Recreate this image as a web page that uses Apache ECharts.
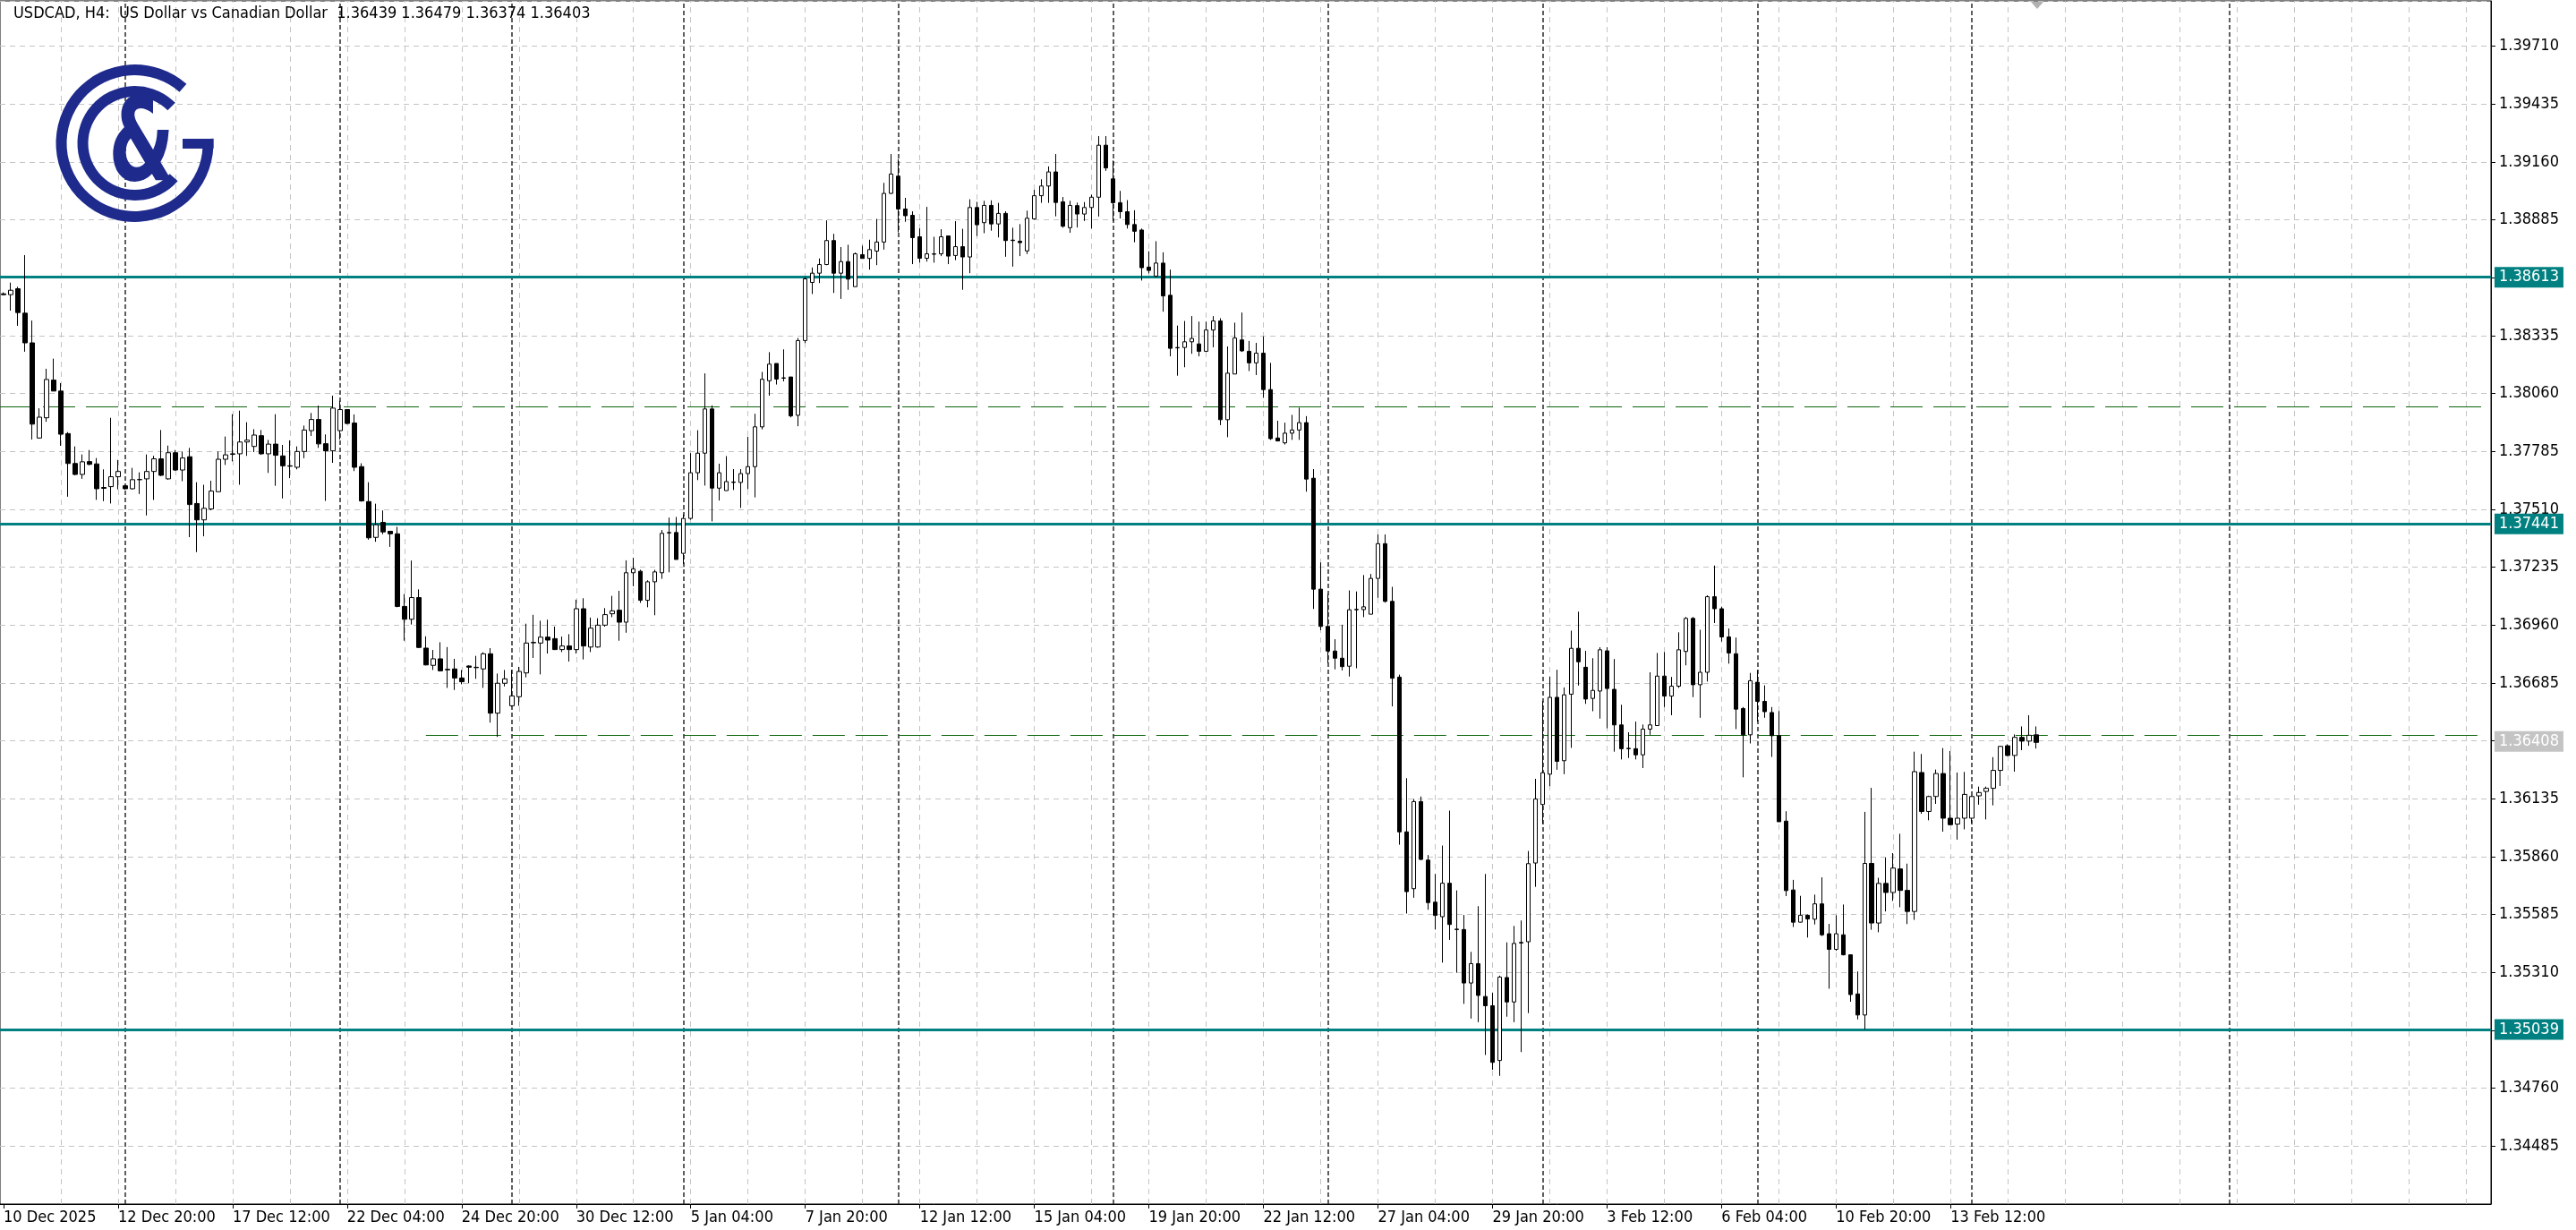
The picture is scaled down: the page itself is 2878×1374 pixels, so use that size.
<!DOCTYPE html>
<html><head><meta charset="utf-8">
<script src="https://cdn.jsdelivr.net/npm/echarts@6/dist/echarts.min.js"></script>
<style>html,body{margin:0;padding:0;background:#fff;}#c{width:2878px;height:1374px;}</style>
</head><body><div id="c"></div>
<script>
// ---- DATA (USDCAD H4) ----
const opens = [
1.38534,1.38530,1.38558,1.38442,1.38301,1.37849,1.37945,1.38124,1.38072,1.37870,
1.37728,1.37676,1.37737,1.37726,1.37614,1.37618,1.37665,1.37622,1.37608,1.37651,
1.37655,1.37690,1.37750,1.37655,1.37779,1.37697,1.37760,1.37538,1.37460,1.37512,
1.37594,1.37748,1.37774,1.37774,1.37830,1.37809,1.37860,1.37774,1.37820,1.37764,
1.37717,1.37710,1.37785,1.37884,1.37937,1.37822,1.37788,1.37884,1.37984,1.37920,
1.37713,1.37547,1.37377,1.37448,1.37406,1.37394,1.37049,1.36988,1.37091,1.36851,
1.36769,1.36800,1.36750,1.36752,1.36709,1.36766,1.36758,1.36752,1.36824,1.36542,
1.36684,1.36577,1.36620,1.36733,1.36876,1.36875,1.36903,1.36896,1.36844,1.36861,
1.36844,1.37038,1.36856,1.36856,1.36960,1.37014,1.37031,1.36974,1.37209,1.37216,
1.37078,1.37166,1.37209,1.37398,1.37400,1.37301,1.37467,1.37684,1.37777,1.37987,
1.37611,1.37599,1.37640,1.37638,1.37680,1.37713,1.37902,1.38121,1.38203,1.38133,
1.38139,1.37957,1.38312,1.38588,1.38632,1.38673,1.38787,1.38632,1.38687,1.38568,
1.38720,1.38702,1.38737,1.38780,1.39011,1.39093,1.38937,1.38907,1.38805,1.38703,
1.38722,1.38724,1.38809,1.38716,1.38758,1.38709,1.38944,1.38872,1.38954,1.38866,
1.38916,1.38789,1.38784,1.38738,1.38890,1.39000,1.39046,1.39113,1.38971,1.38848,
1.38953,1.38913,1.38944,1.38993,1.39240,1.39080,1.38967,1.38924,1.38863,1.38837,
1.38661,1.38618,1.38680,1.38527,1.38277,1.38279,1.38306,1.38296,1.38261,1.38362,
1.38405,1.37936,1.38153,1.38315,1.38261,1.38206,1.38252,1.38079,1.37849,1.37826,
1.37872,1.37887,1.37922,1.37658,1.37131,1.36954,1.36837,1.36803,1.36765,1.37033,
1.37034,1.37012,1.37182,1.37347,1.37073,1.36713,1.35978,1.35708,1.36122,1.35844,
1.35644,1.35575,1.35734,1.35516,1.35514,1.35260,1.35352,1.35196,1.35152,1.34892,
1.35286,1.35170,1.35450,1.35456,1.35830,1.36108,1.36252,1.36617,1.36316,1.36632,
1.36850,1.36760,1.36612,1.36647,1.36838,1.36655,1.36486,1.36375,1.36373,1.36344,
1.36466,1.36483,1.36718,1.36623,1.36670,1.36835,1.36992,1.36677,1.36736,1.37095,
1.37038,1.36904,1.36824,1.36564,1.36439,1.36689,1.36598,1.36545,1.36435,1.36029,
1.35702,1.35549,1.35582,1.35563,1.35636,1.35494,1.35420,1.35489,1.35394,1.35208,
1.35108,1.35828,1.35545,1.35733,1.35690,1.35802,1.35700,1.35600,1.36260,1.36075,
1.36146,1.36255,1.36043,1.36015,1.36043,1.36043,1.36149,1.36170,1.36185,1.36270,
1.36387,1.36341,1.36427,1.36409,1.36439];
const highs = [
1.38541,1.38587,1.38567,1.38718,1.38407,1.37990,1.38178,1.38226,1.38110,1.37877,
1.37809,1.37771,1.37792,1.37754,1.37700,1.37945,1.37745,1.37625,1.37707,1.37686,
1.37771,1.37764,1.37887,1.37813,1.37792,1.37784,1.37802,1.37639,1.37627,1.37646,
1.37785,1.37856,1.37962,1.37979,1.37924,1.37891,1.37887,1.37840,1.37962,1.37816,
1.37838,1.37809,1.37908,1.37968,1.38003,1.37866,1.38050,1.38026,1.37986,1.37961,
1.37729,1.37639,1.37537,1.37505,1.37406,1.37427,1.37108,1.37267,1.37130,1.36907,
1.36842,1.36879,1.36856,1.36800,1.36747,1.36769,1.36814,1.36831,1.36851,1.36730,
1.36747,1.36747,1.36762,1.36967,1.37009,1.36981,1.36986,1.36953,1.36906,1.36917,
1.37081,1.37088,1.36996,1.36993,1.37041,1.37099,1.37123,1.37268,1.37280,1.37223,
1.37173,1.37223,1.37412,1.37471,1.37474,1.37486,1.37777,1.37886,1.38156,1.38004,
1.37727,1.37763,1.37701,1.37701,1.37855,1.37964,1.38163,1.38257,1.38203,1.38270,
1.38139,1.38324,1.38615,1.38659,1.38702,1.38883,1.38819,1.38756,1.38767,1.38730,
1.38763,1.38791,1.38890,1.39061,1.39198,1.39174,1.38990,1.38926,1.38845,1.38947,
1.38805,1.38841,1.38809,1.38879,1.38843,1.38983,1.38971,1.38976,1.38978,1.38966,
1.38926,1.38848,1.38865,1.38929,1.39028,1.39078,1.39139,1.39198,1.38994,1.38976,
1.38967,1.38970,1.39005,1.39283,1.39283,1.39167,1.39023,1.38979,1.38931,1.38844,
1.38736,1.38784,1.38731,1.38649,1.38383,1.38405,1.38428,1.38402,1.38402,1.38428,
1.38418,1.38284,1.38397,1.38445,1.38310,1.38301,1.38332,1.38206,1.37931,1.37922,
1.37959,1.37993,1.37953,1.37701,1.37258,1.37107,1.36893,1.36962,1.37125,1.37120,
1.37198,1.37203,1.37391,1.37391,1.37142,1.36725,1.36233,1.36134,1.36146,1.35868,
1.35778,1.35913,1.36079,1.35700,1.35583,1.35408,1.35625,1.35778,1.35213,1.35295,
1.35453,1.35531,1.35557,1.35887,1.36230,1.36600,1.36716,1.36748,1.36664,1.36934,
1.37024,1.36838,1.36803,1.36855,1.36855,1.36799,1.36582,1.36451,1.36502,1.36488,
1.36736,1.36828,1.36832,1.36714,1.36926,1.36999,1.36999,1.36938,1.37102,1.37243,
1.37048,1.36944,1.36901,1.36571,1.36733,1.36747,1.36674,1.36571,1.36552,1.36076,
1.35750,1.35674,1.35586,1.35680,1.35762,1.35541,1.35582,1.35633,1.35395,1.35315,
1.36073,1.36187,1.35760,1.35856,1.35877,1.35969,1.35827,1.36359,1.36348,1.36150,
1.36274,1.36376,1.36362,1.36260,1.36263,1.36150,1.36193,1.36193,1.36333,1.36387,
1.36394,1.36441,1.36479,1.36532,1.36479];
const lows = [
1.38527,1.38454,1.38382,1.38259,1.37842,1.37846,1.37926,1.38072,1.37812,1.37570,
1.37672,1.37655,1.37719,1.37555,1.37549,1.37538,1.37605,1.37604,1.37604,1.37583,
1.37481,1.37555,1.37668,1.37651,1.37693,1.37644,1.37378,1.37307,1.37382,1.37506,
1.37594,1.37721,1.37738,1.37627,1.37764,1.37782,1.37769,1.37683,1.37622,1.37562,
1.37658,1.37700,1.37753,1.37859,1.37802,1.37550,1.37731,1.37842,1.37915,1.37692,
1.37547,1.37366,1.37356,1.37392,1.37332,1.37045,1.36886,1.36963,1.36851,1.36769,
1.36747,1.36740,1.36662,1.36652,1.36679,1.36684,1.36705,1.36662,1.36497,1.36429,
1.36669,1.36573,1.36577,1.36712,1.36804,1.36726,1.36825,1.36842,1.36832,1.36787,
1.36825,1.36797,1.36832,1.36853,1.36953,1.36998,1.36886,1.36924,1.37145,1.37066,
1.37045,1.37007,1.37180,1.37211,1.37272,1.37251,1.37461,1.37649,1.37623,1.37453,
1.37552,1.37599,1.37602,1.37517,1.37606,1.37567,1.37890,1.38050,1.38103,1.38118,
1.37947,1.37905,1.38300,1.38533,1.38585,1.38670,1.38538,1.38510,1.38553,1.38568,
1.38702,1.38649,1.38670,1.38744,1.39008,1.38826,1.38876,1.38675,1.38682,1.38687,
1.38682,1.38713,1.38675,1.38694,1.38553,1.38632,1.38808,1.38822,1.38834,1.38802,
1.38710,1.38663,1.38713,1.38723,1.38886,1.38966,1.38966,1.38902,1.38848,1.38824,
1.38849,1.38880,1.38844,1.38901,1.39118,1.38880,1.38892,1.38844,1.38779,1.38597,
1.38631,1.38614,1.38449,1.38237,1.38145,1.38185,1.38249,1.38237,1.38258,1.38280,
1.37910,1.37853,1.38153,1.38258,1.38167,1.38148,1.38040,1.37840,1.37835,1.37818,
1.37840,1.37840,1.37594,1.37037,1.36936,1.36780,1.36750,1.36745,1.36716,1.36755,
1.36998,1.37012,1.37090,1.37067,1.36574,1.35917,1.35590,1.35665,1.35844,1.35608,
1.35514,1.35357,1.35465,1.35309,1.35161,1.35091,1.35074,1.34918,1.34848,1.34819,
1.35100,1.35074,1.34932,1.35117,1.35717,1.36016,1.36195,1.36273,1.36252,1.36377,
1.36673,1.36586,1.36551,1.36516,1.36470,1.36359,1.36322,1.36329,1.36322,1.36281,
1.36439,1.36483,1.36571,1.36532,1.36662,1.36769,1.36618,1.36520,1.36692,1.36970,
1.36882,1.36777,1.36466,1.36237,1.36398,1.36502,1.36520,1.36334,1.36026,1.35673,
1.35526,1.35548,1.35476,1.35538,1.35483,1.35233,1.35413,1.35391,1.35171,1.35087,
1.35039,1.35513,1.35501,1.35600,1.35650,1.35620,1.35540,1.35560,1.36064,1.36033,
1.36111,1.35979,1.36010,1.35941,1.35990,1.36019,1.36107,1.36037,1.36104,1.36196,
1.36338,1.36264,1.36366,1.36387,1.36374];
const closes = [
1.38530,1.38551,1.38445,1.38301,1.37915,1.37948,1.38127,1.38072,1.37867,1.37728,
1.37676,1.37736,1.37724,1.37608,1.37610,1.37665,1.37690,1.37608,1.37651,1.37652,
1.37690,1.37750,1.37672,1.37779,1.37697,1.37754,1.37533,1.37460,1.37515,1.37597,
1.37748,1.37769,1.37772,1.37830,1.37839,1.37863,1.37774,1.37820,1.37767,1.37717,
1.37715,1.37785,1.37887,1.37937,1.37821,1.37788,1.37991,1.37984,1.37918,1.37710,
1.37550,1.37375,1.37437,1.37403,1.37394,1.37049,1.36988,1.37091,1.36854,1.36771,
1.36800,1.36743,1.36748,1.36709,1.36691,1.36760,1.36760,1.36824,1.36542,1.36684,
1.36705,1.36624,1.36740,1.36875,1.36878,1.36903,1.36889,1.36844,1.36861,1.36844,
1.37038,1.36861,1.36946,1.36960,1.37010,1.37028,1.36974,1.37209,1.37227,1.37078,
1.37166,1.37213,1.37396,1.37400,1.37272,1.37467,1.37684,1.37777,1.37987,1.37611,
1.37684,1.37642,1.37638,1.37680,1.37713,1.37902,1.38128,1.38200,1.38129,1.38135,
1.37954,1.38312,1.38605,1.38632,1.38673,1.38787,1.38632,1.38687,1.38604,1.38724,
1.38702,1.38744,1.38780,1.39011,1.39103,1.38937,1.38905,1.38801,1.38703,1.38724,
1.38724,1.38805,1.38713,1.38758,1.38709,1.38944,1.38862,1.38954,1.38866,1.38916,
1.38787,1.38787,1.38777,1.38893,1.39000,1.39046,1.39113,1.38968,1.38855,1.38954,
1.38913,1.38944,1.38993,1.39240,1.39132,1.38967,1.38924,1.38863,1.38831,1.38658,
1.38645,1.38680,1.38524,1.38275,1.38279,1.38306,1.38322,1.38261,1.38362,1.38405,
1.37936,1.38157,1.38324,1.38263,1.38206,1.38252,1.38079,1.37846,1.37835,1.37872,
1.37887,1.37922,1.37654,1.37131,1.36954,1.36837,1.36803,1.36763,1.37033,1.37035,
1.37047,1.37182,1.37347,1.37073,1.36708,1.35978,1.35694,1.36122,1.35847,1.35642,
1.35581,1.35734,1.35538,1.35514,1.35260,1.35352,1.35201,1.35152,1.34883,1.35288,
1.35170,1.35448,1.35453,1.35827,1.36134,1.36259,1.36617,1.36313,1.36629,1.36850,
1.36786,1.36609,1.36650,1.36843,1.36659,1.36486,1.36373,1.36373,1.36344,1.36466,
1.36486,1.36718,1.36623,1.36670,1.36843,1.36992,1.36677,1.36736,1.37095,1.37038,
1.36904,1.36828,1.36561,1.36439,1.36696,1.36598,1.36549,1.36435,1.36026,1.35699,
1.35549,1.35582,1.35564,1.35636,1.35489,1.35420,1.35494,1.35394,1.35205,1.35108,
1.35828,1.35545,1.35733,1.35690,1.35806,1.35700,1.35600,1.36264,1.36075,1.36146,
1.36255,1.36043,1.36012,1.36043,1.36156,1.36146,1.36165,1.36185,1.36270,1.36384,
1.36341,1.36427,1.36409,1.36437,1.36403];

// x tick labels, one every 16 H4 bars starting at bar 0
const xTickLabels = ['10 Dec 2025','12 Dec 20:00','17 Dec 12:00','22 Dec 04:00','24 Dec 20:00',
  '30 Dec 12:00','5 Jan 04:00','7 Jan 20:00','12 Jan 12:00','15 Jan 04:00','19 Jan 20:00',
  '22 Jan 12:00','27 Jan 04:00','29 Jan 20:00','3 Feb 12:00','6 Feb 04:00','10 Feb 20:00','13 Feb 12:00'];
// bar index of each new week (period separators)
const weekStartBars = [17,47,71,95,125,155,185,215,245,275,311];
// horizontal levels
const solidLevels = [1.38613, 1.37441, 1.35039];
const dashedLevelFull = [1.38000];
const dashedLevelPartial = [{fromBar: 59, price: 1.36438}];
const bidPrice = [1.36408];
const titleText = 'USDCAD, H4:  US Dollar vs Canadian Dollar  1.36439 1.36479 1.36374 1.36403';
const slotCount = 348;     // bars + empty right shift area
const priceStep = 0.00275;
const priceMin = 1.34210;
const priceMax = 1.399255;

// ---- CHART ----
const FONT = "'DejaVu Sans Condensed', 'Liberation Sans', sans-serif";
const TEAL = '#008080';
const GREEN = '#0b650b';
const GRIDC = '#c4c4c4';
const FS = 18;

const categories = [];
for (let i = 0; i < slotCount; i++) categories.push(String(i));
const candleData = categories.map((c, i) => i < opens.length
  ? [opens[i], closes[i], Math.min(lows[i], opens[i], closes[i]), Math.max(highs[i], opens[i], closes[i])]
  : '-');

const markData = [];
for (let i = 8; i < slotCount; i += 8) {
  markData.push({xAxis: i, lineStyle: {color: GRIDC, type: [6, 5], width: 1}});
}
weekStartBars.forEach(b => markData.push({xAxis: b, lineStyle: {color: '#2a2a2a', type: [5, 3], width: 1.5}}));
dashedLevelFull.forEach(p => markData.push({yAxis: p, lineStyle: {color: GREEN, type: [36, 12], width: 1}}));
dashedLevelPartial.forEach(d => markData.push([
  {coord: [d.fromBar, d.price], lineStyle: {color: GREEN, type: [36, 12], width: 1}},
  {coord: [slotCount - 1, d.price]}
]));
solidLevels.forEach(p => markData.push({
  yAxis: p, lineStyle: {color: TEAL, type: 'solid', width: 3},
  label: {show: true, position: 'end', distance: 4, formatter: p.toFixed(5), color: '#fff',
    backgroundColor: TEAL, padding: [3, 5, 2, 5], fontSize: FS, fontFamily: FONT}
}));
bidPrice.forEach(p => markData.push({
  yAxis: p, lineStyle: {color: 'rgba(0,0,0,0)', width: 1},
  label: {show: true, position: 'end', distance: 4, formatter: p.toFixed(5), color: '#fff',
    backgroundColor: '#c4c4c4', padding: [3, 5, 2, 5], fontSize: FS, fontFamily: FONT}
}));

const labelEvery = 16;
const showLabel = (idx) => idx % labelEvery === 0 && idx / labelEvery < xTickLabels.length;

const chart = echarts.init(document.getElementById('c'));
chart.setOption({
  animation: false,
  backgroundColor: '#ffffff',
  grid: {left: 0, right: 95, top: 1, bottom: 29, show: true, borderColor: '#000', borderWidth: 1,
    containLabel: false, outerBoundsMode: 'none'},
  xAxis: {
    type: 'category', data: categories, boundaryGap: true,
    axisLine: {show: true, lineStyle: {color: '#000', width: 1}},
    axisTick: {show: true, alignWithLabel: true, length: 5, interval: (i) => showLabel(i), lineStyle: {color: '#000'}},
    axisLabel: {show: true, interval: (i) => showLabel(i), formatter: (v, i) => xTickLabels[i / labelEvery] || '',
      align: 'left', margin: 6, color: '#000', fontSize: FS, fontFamily: FONT},
    splitLine: {show: false}
  },
  yAxis: {
    type: 'value', position: 'right', min: priceMin, max: priceMax, interval: priceStep,
    axisLine: {show: true, lineStyle: {color: '#000', width: 1}},
    axisTick: {show: true, length: 5, lineStyle: {color: '#000'}},
    axisLabel: {show: true, margin: 9, color: '#000', fontSize: FS, fontFamily: FONT,
      showMinLabel: false, showMaxLabel: false, formatter: (v) => v.toFixed(5)},
    splitLine: {show: true, lineStyle: {color: GRIDC, type: [6, 5], width: 1}}
  },
  series: [{
    type: 'candlestick', data: candleData, barWidth: 5, large: false,
    itemStyle: {color: '#ffffff', color0: '#000000', borderColor: '#000000', borderColor0: '#000000', borderWidth: 1},
    emphasis: {disabled: true},
    markLine: {silent: true, symbol: ['none', 'none'], z: 1, animation: false, precision: 5,
      label: {show: false}, emphasis: {disabled: true}, data: markData}
  }],
  graphic: [
    {type: 'text', x: 15, y: 15, z: 100, style: {text: titleText, font: '18px ' + FONT, fill: '#000',
      textVerticalAlign: 'middle', verticalAlign: 'middle'}},
    {type: 'sector', z: 100, shape: {cx: 150.5, cy: 160, r0: 76, r: 88, startAngle: -0.06, endAngle: 5.43, clockwise: true},
      style: {fill: '#1e2a8c'}},
    {type: 'rect', z: 100, shape: {x: 204, y: 155, width: 34.5, height: 11}, style: {fill: '#1e2a8c'}},
    {type: 'sector', z: 100, shape: {cx: 150.5, cy: 160, r0: 52, r: 64, startAngle: 0.72, endAngle: 5.50, clockwise: true},
      style: {fill: '#1e2a8c'}},
    {type: 'text', z: 100, x: 158, y: 168, scaleX: 0.66, style: {text: '&', font: 'bold 128px DejaVu Sans', fill: '#1e2a8c',
      textAlign: 'center', align: 'center', textVerticalAlign: 'middle', verticalAlign: 'middle'}},
    {type: 'polygon', z: 100, shape: {points: [[2269, 2], [2283, 2], [2276, 10]]}, style: {fill: '#b0b0b0'}}
  ]
});
</script>
</body></html>
